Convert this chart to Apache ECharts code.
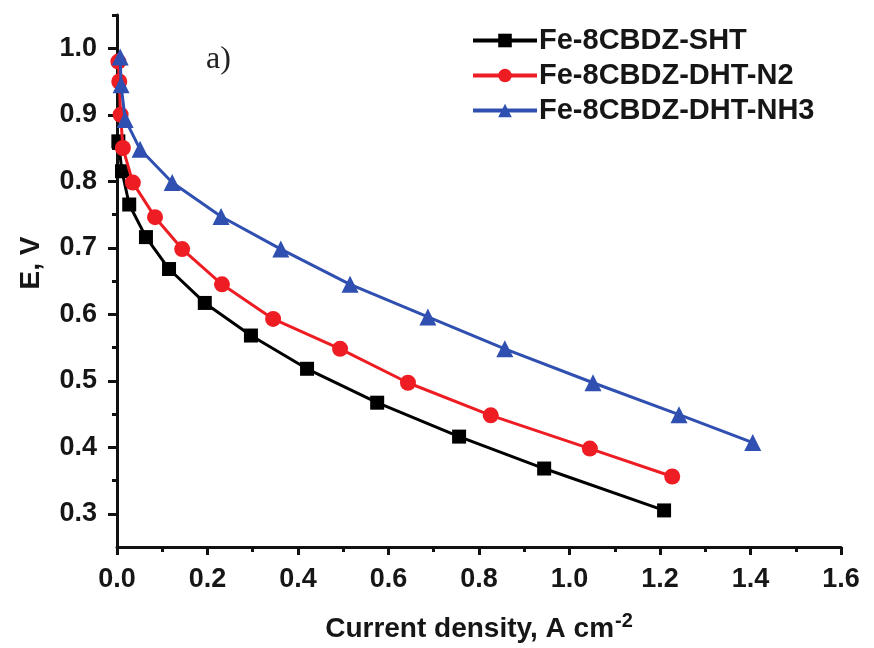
<!DOCTYPE html>
<html>
<head>
<meta charset="utf-8">
<script src="https://cdn.jsdelivr.net/npm/echarts@6/dist/echarts.min.js"></script>
<style>html,body{margin:0;padding:0;background:#fff;}#c{width:874px;height:648px;}</style>
</head>
<body>
<div id="c"></div>
<script>
// Data
const seriesNames = ['Fe-8CBDZ-SHT', 'Fe-8CBDZ-DHT-N2', 'Fe-8CBDZ-DHT-NH3'];
const shtX = [0.003, 0.011, 0.027, 0.064, 0.115, 0.194, 0.296, 0.420, 0.575, 0.756, 0.944, 1.209];
const shtY = [0.860, 0.815, 0.765, 0.716, 0.668, 0.617, 0.568, 0.518, 0.467, 0.416, 0.368, 0.305];
const n2X = [0.003, 0.005, 0.008, 0.013, 0.035, 0.084, 0.144, 0.232, 0.345, 0.493, 0.643, 0.826, 1.045, 1.227];
const n2Y = [0.980, 0.950, 0.900, 0.850, 0.798, 0.746, 0.698, 0.645, 0.593, 0.548, 0.497, 0.448, 0.398, 0.356];
const nh3X = [0.007, 0.009, 0.018, 0.051, 0.122, 0.230, 0.362, 0.515, 0.687, 0.857, 1.052, 1.242, 1.405];
const nh3Y = [0.987, 0.945, 0.893, 0.848, 0.798, 0.747, 0.698, 0.645, 0.596, 0.548, 0.497, 0.449, 0.407];
const yMajorTicks = [0.3, 0.4, 0.5, 0.6, 0.7, 0.8, 0.9, 1.0];
const yMinorTicks = [0.35, 0.45, 0.55, 0.65, 0.75, 0.85, 0.95, 1.05];

const zip = (xs, ys) => xs.map((x, i) => [x, ys[i]]);
const axisColor = '#111111';
const textColor = '#161616';
const font = 'Liberation Sans, Arial, sans-serif';

const chart = echarts.init(document.getElementById('c'));
chart.setOption({
  backgroundColor: '#ffffff',
  animation: false,
  grid: { left: 117, right: 33, top: 15, bottom: 99 },
  legend: {
    orient: 'vertical',
    left: 466,
    top: 21,
    itemWidth: 64,
    itemHeight: 17,
    itemGap: 6,
    lineStyle: { width: 4 },
    textStyle: { fontFamily: font, fontWeight: 'bold', fontSize: 29, color: textColor, padding: [0, 0, 0, -3] },
    data: seriesNames
  },
  xAxis: {
    type: 'value',
    min: 0, max: 1.6, interval: 0.2,
    name: 'Current density, A cm{sup|-2}',
    nameLocation: 'middle',
    nameGap: 64,
    nameTextStyle: {
      fontFamily: font, fontWeight: 'bold', fontSize: 28, color: textColor,
      rich: { sup: { fontFamily: font, fontWeight: 'bold', fontSize: 20, color: textColor, verticalAlign: 'top', padding: [0, 0, 16, 1] } }
    },
    axisLine: { lineStyle: { color: axisColor, width: 3 } },
    axisTick: { length: 8, lineStyle: { color: axisColor, width: 3 } },
    minorTick: { show: true, splitNumber: 2, length: 5, lineStyle: { color: axisColor, width: 3 } },
    axisLabel: { margin: 19, fontFamily: font, fontWeight: 'bold', fontSize: 27, color: textColor,
      formatter: v => v.toFixed(1) },
    splitLine: { show: false }
  },
  yAxis: [{
    type: 'value',
    position: 'left',
    min: 0.25, max: 1.05,
    name: 'E, V',
    nameLocation: 'middle',
    nameGap: 72,
    nameTextStyle: { fontFamily: font, fontWeight: 'bold', fontSize: 28, color: textColor, padding: [0, 0, 0, 36] },
    axisLine: { show: true, lineStyle: { color: axisColor, width: 3 } },
    axisTick: { show: true, length: 9, customValues: yMajorTicks, lineStyle: { color: axisColor, width: 3 } },
    axisLabel: { margin: 20, customValues: yMajorTicks, fontFamily: font, fontWeight: 'bold', fontSize: 27, color: textColor,
      formatter: v => Number(v).toFixed(1) },
    splitLine: { show: false }
  }, {
    type: 'value',
    position: 'left',
    min: 0.25, max: 1.05,
    axisLine: { show: false },
    axisTick: { show: true, length: 5, customValues: yMinorTicks, lineStyle: { color: axisColor, width: 3 } },
    axisLabel: { show: false },
    splitLine: { show: false }
  }],
  graphic: [{
    type: 'text', left: 206, top: 44,
    style: { text: 'a)', fontFamily: 'Liberation Serif, Times New Roman, serif', fontSize: 32, fill: '#222222' }
  }],
  series: [{
    name: seriesNames[0], type: 'line', yAxisIndex: 0,
    data: zip(shtX, shtY),
    symbol: 'rect', symbolSize: 14,
    lineStyle: { color: '#000000', width: 3 },
    itemStyle: { color: '#000000' },
    z: 3
  }, {
    name: seriesNames[1], type: 'line', yAxisIndex: 0,
    data: zip(n2X, n2Y),
    symbol: 'circle', symbolSize: 16,
    lineStyle: { color: '#ee1d24', width: 3 },
    itemStyle: { color: '#ee1d24' },
    z: 4
  }, {
    name: seriesNames[2], type: 'line', yAxisIndex: 0,
    data: zip(nh3X, nh3Y),
    symbol: 'triangle', symbolSize: 17,
    lineStyle: { color: '#2f4fb1', width: 3 },
    itemStyle: { color: '#2f4fb1' },
    z: 5
  }]
});
</script>
</body>
</html>
